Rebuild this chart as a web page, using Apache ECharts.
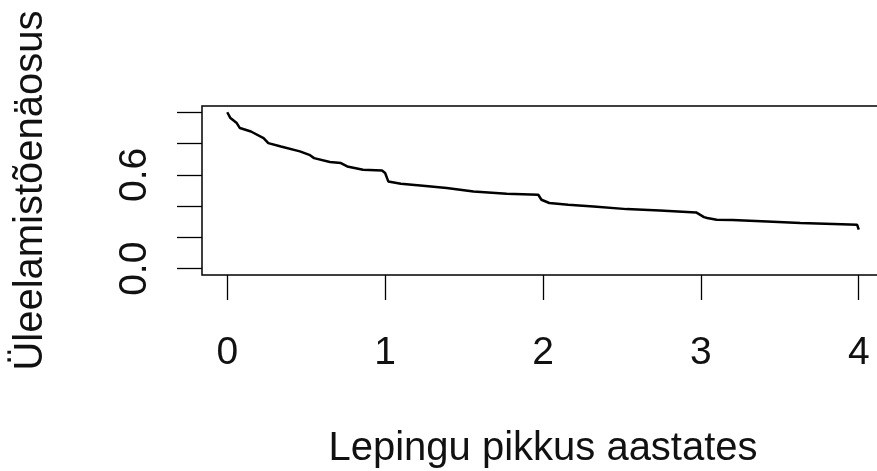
<!DOCTYPE html>
<html>
<head>
<meta charset="utf-8">
<script src="https://cdn.jsdelivr.net/npm/echarts@6/dist/echarts.min.js"></script>
<style>
html,body{margin:0;padding:0;background:#fff;}
#chart{width:877px;height:471px;}
</style>
</head>
<body>
<div id="chart"></div>
<script>
// Kaplan-Meier style survival curve
const times = [0, 0.02, 0.06, 0.08, 0.15, 0.23, 0.26, 0.34, 0.46, 0.52, 0.55, 0.65, 0.72, 0.76, 0.86, 0.98, 1.0, 1.02, 1.10, 1.24, 1.39, 1.56, 1.77, 1.97, 1.99, 2.04, 2.16, 2.32, 2.53, 2.74, 2.97, 3.02, 3.04, 3.10, 3.20, 3.42, 3.63, 3.84, 3.99, 4.0];
const survival = [1.0, 0.963, 0.931, 0.899, 0.877, 0.835, 0.803, 0.781, 0.75, 0.728, 0.707, 0.682, 0.675, 0.654, 0.633, 0.628, 0.612, 0.558, 0.543, 0.530, 0.516, 0.494, 0.479, 0.473, 0.441, 0.420, 0.409, 0.398, 0.381, 0.372, 0.36, 0.33, 0.324, 0.313, 0.311, 0.302, 0.292, 0.286, 0.281, 0.25];
const xTicks = [0, 1, 2, 3, 4];
const yTicks = [0, 0.2, 0.4, 0.6, 0.8, 1.0];
const yLabels = [0, 0.6];
const xTitle = 'Lepingu pikkus aastates';
const yTitle = 'Üleelamistõenäosus';

const FONT = '"Liberation Sans", Arial, Helvetica, sans-serif';
const chart = echarts.init(document.getElementById('chart'), null, {renderer: 'canvas'});
chart.setOption({
  animation: false,
  backgroundColor: '#fff',
  grid: {
    show: true, left: 202, top: 106, width: 682, height: 169,
    outerBoundsMode: 'none', containLabel: false,
    borderColor: '#000', borderWidth: 1.5, backgroundColor: 'transparent'
  },
  xAxis: {
    type: 'value', min: -0.16, max: 4.16,
    axisLine: {show: false, onZero: false},
    splitLine: {show: false},
    axisTick: {show: true, inside: false, customValues: xTicks, length: 25, lineStyle: {color: '#000', width: 1.3}},
    axisLabel: {customValues: xTicks, margin: 59, fontSize: 39, color: '#111', fontFamily: FONT,
      formatter: v => String(v)},
    name: xTitle, nameLocation: 'middle', nameGap: 154,
    nameTextStyle: {fontSize: 40, color: '#111', fontFamily: FONT}
  },
  yAxis: {
    type: 'value', min: -0.04, max: 1.04,
    axisLine: {show: false, onZero: false},
    splitLine: {show: false},
    axisTick: {show: true, inside: false, customValues: yTicks, length: 25, lineStyle: {color: '#000', width: 1.3}},
    axisLabel: {customValues: yLabels, rotate: 90, margin: 47, fontSize: 39, color: '#111', fontFamily: FONT,
      formatter: v => v.toFixed(1)},
    name: yTitle, nameLocation: 'middle', nameGap: 151,
    nameTextStyle: {fontSize: 40, color: '#111', fontFamily: FONT}
  },
  series: [{
    type: 'line',
    data: times.map((t, i) => [t, survival[i]]),
    showSymbol: false,
    lineStyle: {color: '#000', width: 2.5},
    silent: true
  }]
});
</script>
</body>
</html>
